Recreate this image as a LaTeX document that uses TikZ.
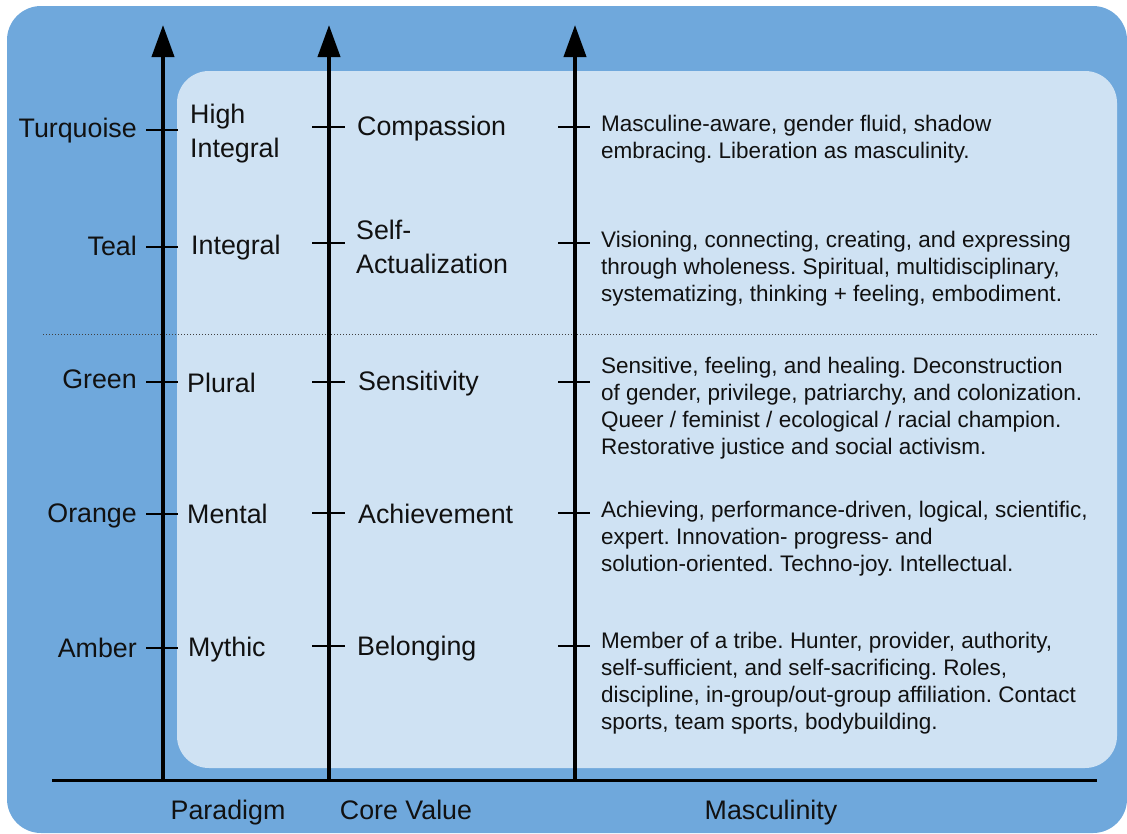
\documentclass[tikz,border=0pt]{standalone}
\usepackage{fontspec}
\setmainfont{Liberation Sans}
\usetikzlibrary{arrows.meta}
\definecolor{outerblue}{HTML}{6FA8DC}
\definecolor{innerblue}{HTML}{CFE2F3}
\definecolor{ink}{HTML}{111111}
\frenchspacing
\begin{document}
\begin{tikzpicture}[x=1pt,y=-1pt,
  lbl/.style={font=\fontsize{26.8}{34}\selectfont, inner sep=0pt, text=ink},
  desc/.style={font=\fontsize{22.5}{27}\selectfont, inner sep=0pt, align=left, anchor=base west, text=ink},
  axisarrow/.style={line width=4pt, -{Triangle[length=32pt,width=22pt]}},
  tickmark/.style={line width=2pt},
  sep/.style={line width=1pt, dash pattern=on 1pt off 2pt, black!75},
]
\frenchspacing
\useasboundingbox (0,0) rectangle (1127,833);
\fill[outerblue, rounded corners=34pt] (7,6) rectangle (1127,833);
\fill[innerblue, rounded corners=32pt] (177,71) rectangle (1117,768);

% separator
\coordinate (sepL) at (43,334);
\coordinate (sepR) at (1097,334);
\draw[sep] (sepL) -- (sepR);

% vertical axes
\coordinate (b1) at (163,780); \coordinate (t1) at (163,25);
\coordinate (b2) at (329,780); \coordinate (t2) at (329,25);
\coordinate (b3) at (575,780); \coordinate (t3) at (575,25);
\draw[axisarrow] (b1) -- (t1);
\draw[axisarrow] (b2) -- (t2);
\draw[axisarrow] (b3) -- (t3);

% horizontal base axis
\coordinate (hL) at (52,780);
\coordinate (hR) at (1097,780);
\draw[line width=3pt] (hL) -- (hR);

% ticks on axis 1
\foreach \y in {130,247,382,514,648}{
  \draw[tickmark] (146,\y) -- (178,\y);
}
% ticks on axis 2
\foreach \y in {127,243,382,513,646}{
  \draw[tickmark] (312,\y) -- (345,\y);
}
% ticks on axis 3
\foreach \y in {127,243,382,513,646}{
  \draw[tickmark] (558,\y) -- (590,\y);
}

% level names
\node[lbl, anchor=base east] (turq) at (137,137) {Turquoise};
\node[lbl, anchor=base east] (teal) at (137,255) {Teal};
\node[lbl, anchor=base east] (green) at (137,388) {Green};
\node[lbl, anchor=base east] (orange) at (137,522) {Orange};
\node[lbl, anchor=base east] (amber) at (137,657) {Amber};

% paradigms (multi-line nodes: base = last line)
\node[lbl, anchor=base west, align=left] (highint) at (190,157) {High\\Integral};
\node[lbl, anchor=base west] (integral) at (191,254) {Integral};
\node[lbl, anchor=base west] (plural) at (187,392) {Plural};
\node[lbl, anchor=base west] (mental) at (187,523) {Mental};
\node[lbl, anchor=base west] (mythic) at (188,656) {Mythic};

% core values
\node[lbl, anchor=base west] (compassion) at (357,135) {Compassion};
\node[lbl, anchor=base west, align=left] (selfact) at (356,273) {Self-\\Actualization};
\node[lbl, anchor=base west] (sensitivity) at (358,390) {Sensitivity};
\node[lbl, anchor=base west] (achievement) at (358,523) {Achievement};
\node[lbl, anchor=base west] (belonging) at (357,655) {Belonging};

% masculinity descriptions (base = last line)
\node[desc] (mturq) at (601,158) {Masculine-aware, gender fluid, shadow\\embracing. Liberation as masculinity.};
\node[desc] (mteal) at (601,301) {Visioning, connecting, creating, and expressing\\through wholeness. Spiritual, multidisciplinary,\\systematizing, thinking + feeling, embodiment.};
\node[desc] (mgreen) at (601,454) {Sensitive, feeling, and healing. Deconstruction\\of gender, privilege, patriarchy, and colonization.\\Queer / feminist / ecological / racial champion.\\Restorative justice and social activism.};
\node[desc] (morange) at (601,571) {Achieving, performance-driven, logical, scientific,\\expert. Innovation- progress- and\\solution-oriented. Techno-joy. Intellectual.};
\node[desc] (mamber) at (601,729) {Member of a tribe. Hunter, provider, authority,\\self-sufficient, and self-sacrificing. Roles,\\discipline, in-group/out-group affiliation. Contact\\sports, team sports, bodybuilding.};

% axis titles
\node[lbl, anchor=base] (paradigm) at (228,819) {Paradigm};
\node[lbl, anchor=base] (corevalue) at (406,819) {Core Value};
\node[lbl, anchor=base] (masculinity) at (771,819) {Masculinity};
\end{tikzpicture}
\end{document}
